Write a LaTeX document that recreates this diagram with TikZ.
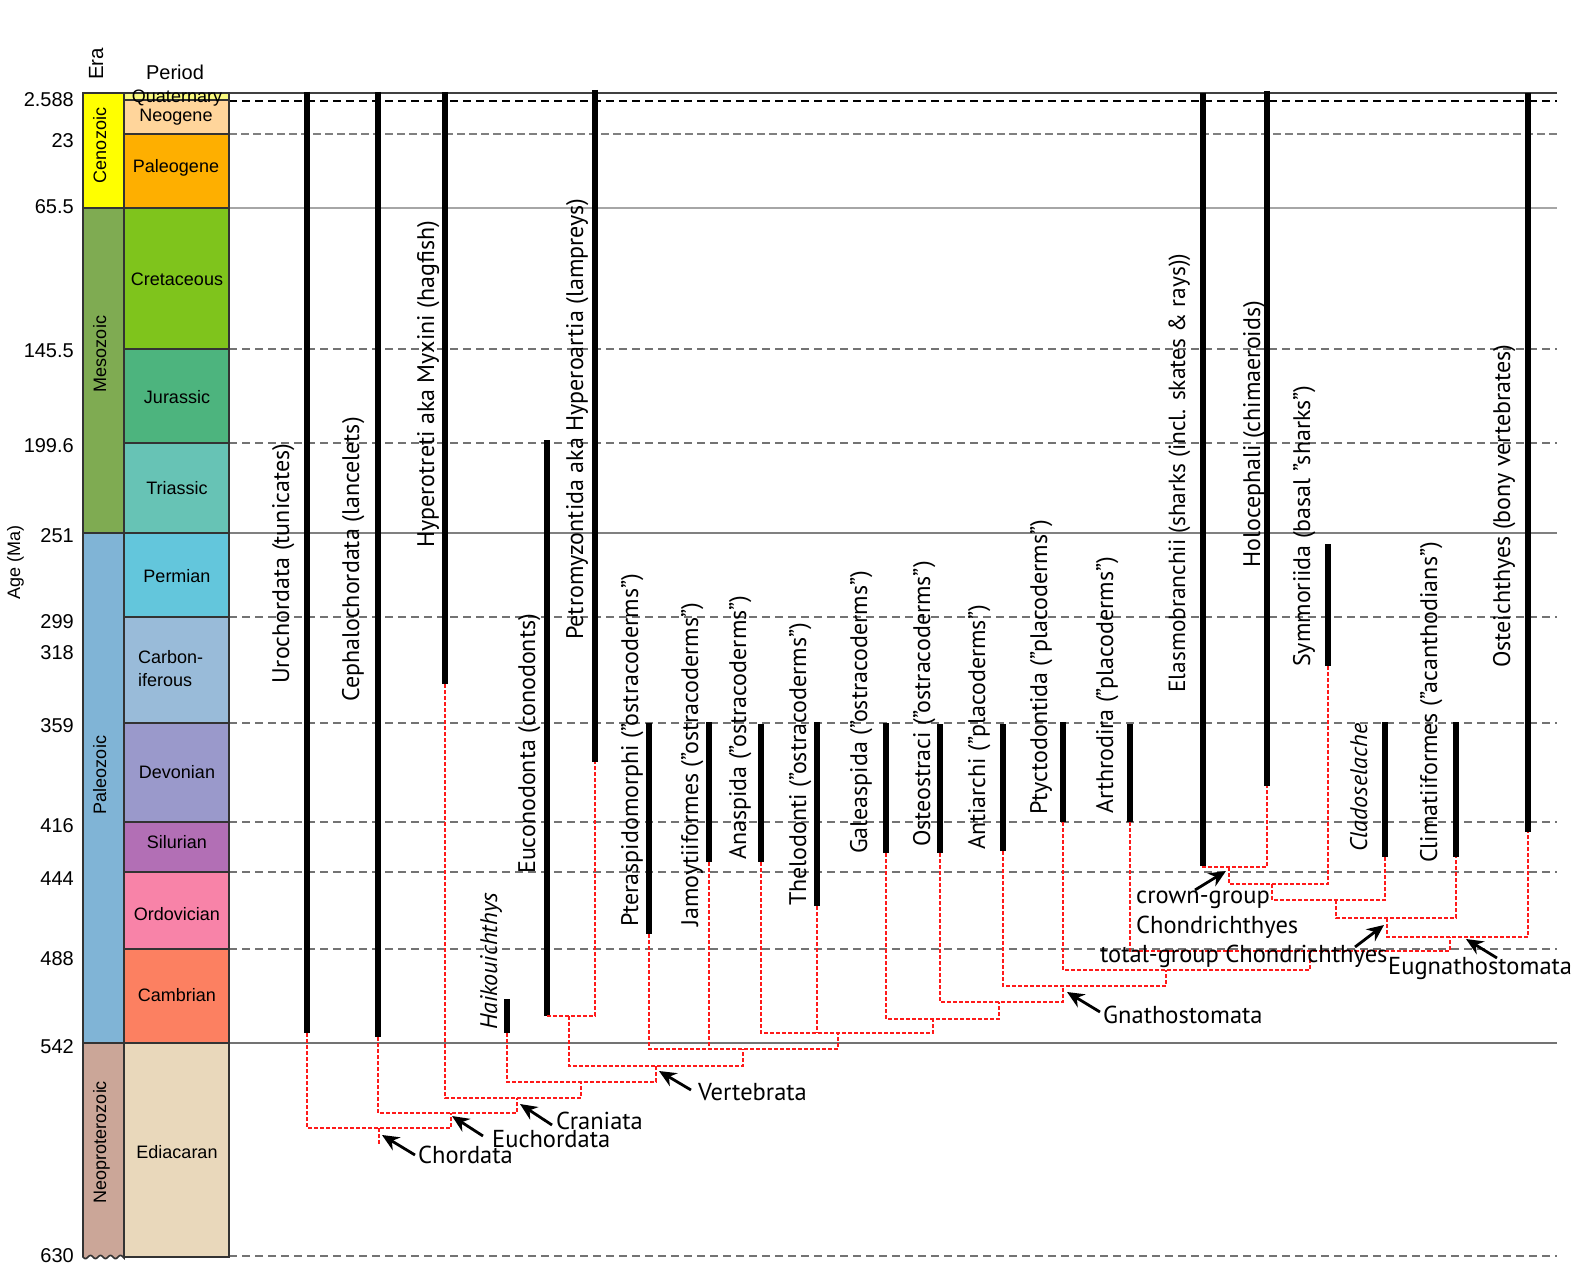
\documentclass[tikz,border=0pt]{standalone}
\usepackage{fontspec}
\setmainfont{PT Sans}
\newfontfamily\colfont{Liberation Sans}
\usetikzlibrary{arrows.meta}
\definecolor{cCeno}{HTML}{FFFF00}
\definecolor{cQuat}{HTML}{F9F97F}
\definecolor{cNeog}{HTML}{FFD59B}
\definecolor{cPaleog}{HTML}{FEAF00}
\definecolor{cMeso}{HTML}{7FAB52}
\definecolor{cCret}{HTML}{7FC41C}
\definecolor{cJura}{HTML}{4DB47E}
\definecolor{cTrias}{HTML}{67C3B5}
\definecolor{cPaleo}{HTML}{80B4D6}
\definecolor{cPerm}{HTML}{63C6DC}
\definecolor{cCarb}{HTML}{99BBD9}
\definecolor{cDevo}{HTML}{9A99CB}
\definecolor{cSilu}{HTML}{B26FB5}
\definecolor{cOrdo}{HTML}{F883A8}
\definecolor{cCamb}{HTML}{FC8061}
\definecolor{cNeop}{HTML}{CBA698}
\definecolor{cEdia}{HTML}{E9D8BB}
\definecolor{treered}{HTML}{FF1A1A}
\begin{document}
\begin{tikzpicture}[x=1pt,y=-1pt,
  cell/.style={draw=black!80, line width=1.6pt},
  gsolid/.style={line width=1.2pt},
  gdash/.style={line width=1.1pt, dash pattern=on 8pt off 5pt},
  bar/.style={line width=6.5pt, black},
  tree/.style={draw=treered, line width=1.4pt, dash pattern=on 4pt off 2pt},
  arr/.style={-{Stealth[length=17pt,width=15pt]}, line width=2.8pt, black},
  taxon/.style={rotate=90, anchor=base west, inner sep=0pt, font=\fontsize{24}{28}\selectfont},
  clade/.style={anchor=base west, inner sep=0pt, font=\fontsize{24.5}{28}\selectfont},
  per/.style={anchor=base, inner sep=0pt, font=\colfont\fontsize{18}{21}\selectfont},
  era/.style={rotate=90, anchor=base, inner sep=0pt, font=\colfont\fontsize{18}{21}\selectfont},
  tick/.style={anchor=base east, inner sep=0pt, font=\colfont\fontsize{20}{23}\selectfont}]
\fill[white] (0,0) rectangle (1577,1273);
\useasboundingbox (0,0) rectangle (1577,1273);

% ---------- time lines ----------
\draw[gsolid, black!75] (229,93) -- (1557,93);
\draw[gdash, black, line width=1.3pt] (229,101) -- (1557,101);
\draw[gdash, black!50, line width=1.8pt, dash pattern=on 8pt off 4pt] (229,134) -- (1557,134);
\draw[gsolid, black!35] (229,208) -- (1557,208);
\draw[gdash, black!55] (229,349) -- (1557,349);
\draw[gdash, black!55] (229,443) -- (1557,443);
\draw[gsolid, black!50] (229,533) -- (1557,533);
\draw[gdash, black!55] (229,617) -- (1557,617);
\draw[gdash, black!55] (229,723) -- (1557,723);
\draw[gdash, black!55] (229,822) -- (1557,822);
\draw[gdash, black!55] (229,872) -- (1557,872);
\draw[gdash, black!55] (229,949) -- (1557,949);
\draw[gsolid, black!55] (229,1043) -- (1557,1043);
\draw[gdash, black!55] (229,1256) -- (1557,1256);

% ---------- geologic column ----------
\filldraw[cell, fill=cCeno] (83,93) rectangle (124,208);
\filldraw[cell, fill=cMeso] (83,208) rectangle (124,533);
\filldraw[cell, fill=cPaleo] (83,533) rectangle (124,1043);
\filldraw[cell, fill=cNeop] (124,1043) -- (83,1043) -- (83,1257)
  -- plot[domain=83:124, samples=41] (\x, {1257+1.6*sin((\x-83)*36)}) -- cycle;
\filldraw[cell, fill=cQuat] (124,93) rectangle (229,100);
\filldraw[cell, fill=cNeog] (124,100) rectangle (229,134);
\filldraw[cell, fill=cPaleog] (124,134) rectangle (229,208);
\filldraw[cell, fill=cCret] (124,208) rectangle (229,349);
\filldraw[cell, fill=cJura] (124,349) rectangle (229,443);
\filldraw[cell, fill=cTrias] (124,443) rectangle (229,533);
\filldraw[cell, fill=cPerm] (124,533) rectangle (229,617);
\filldraw[cell, fill=cCarb] (124,617) rectangle (229,723);
\filldraw[cell, fill=cDevo] (124,723) rectangle (229,822);
\filldraw[cell, fill=cSilu] (124,822) rectangle (229,872);
\filldraw[cell, fill=cOrdo] (124,872) rectangle (229,949);
\filldraw[cell, fill=cCamb] (124,949) rectangle (229,1043);
\filldraw[cell, fill=cEdia] (124,1043) rectangle (229,1257);

\node[era, font=\colfont\fontsize{20.5}{23}\selectfont] (lEra) at (103,64) {Era};
\node[per, font=\colfont\fontsize{20}{23}\selectfont] (lPeriod) at (175,80) {Period};
\node[rotate=90, anchor=base, inner sep=0pt, font=\colfont\fontsize{18}{21}\selectfont] (lAge) at (20,562) {Age (Ma)};
\node[era] (eCeno) at (106,145.5) {Cenozoic};
\node[era] (eMeso) at (106,354) {Mesozoic};
\node[era] (ePaleo) at (106,775) {Paleozoic};
\node[era] (eNeop) at (106,1142) {Neoproterozoic};

\node[per] (pQuat) at (177,103) {Quaternary};
\node[per] (pNeog) at (176,122) {Neogene};
\node[per] (pPaleog) at (176,173) {Paleogene};
\node[per] (pCret) at (177,286) {Cretaceous};
\node[per] (pJura) at (177,403) {Jurassic};
\node[per] (pTrias) at (177,494) {Triassic};
\node[per] (pPerm) at (177,582) {Permian};
\node[per, anchor=base west] (pCarbA) at (138,663) {Carbon-};
\node[per, anchor=base west] (pCarbB) at (138,686) {iferous};
\node[per] (pDevo) at (177,778) {Devonian};
\node[per] (pSilu) at (177,848) {Silurian};
\node[per] (pOrdo) at (177,920) {Ordovician};
\node[per] (pCamb) at (177,1001) {Cambrian};
\node[per] (pEdia) at (177,1158) {Ediacaran};

\node[tick] (k1) at (74,107) {2.588};
\node[tick] (k2) at (74,148) {23};
\node[tick] (k3) at (74,214) {65.5};
\node[tick] (k4) at (74,357) {145.5};
\node[tick] (k5) at (74,452) {199.6};
\node[tick] (k6) at (74,542) {251};
\node[tick] (k7) at (74,628) {299};
\node[tick] (k8) at (74,659) {318};
\node[tick] (k9) at (74,732) {359};
\node[tick] (k10) at (74,832) {416};
\node[tick] (k11) at (74,885) {444};
\node[tick] (k12) at (74,965) {488};
\node[tick] (k13) at (74,1053) {542};
\node[tick] (k14) at (74,1262) {630};

% ---------- taxon ranges ----------
\coordinate (tUro) at (307,92);     \coordinate (bUro) at (307,1033);
\coordinate (tCeph) at (378,92);    \coordinate (bCeph) at (378,1037);
\coordinate (tHyper) at (445,92);   \coordinate (bHyper) at (445,684);
\coordinate (tHaik) at (507,999);   \coordinate (bHaik) at (507,1033);
\coordinate (tEucon) at (547,440);  \coordinate (bEucon) at (547,1016);
\coordinate (tPetro) at (595,90);   \coordinate (bPetro) at (595,762);
\coordinate (tPter) at (649,723);   \coordinate (bPter) at (649,934);
\coordinate (tJamoy) at (709,722);  \coordinate (bJamoy) at (709,862);
\coordinate (tAnasp) at (761,724);  \coordinate (bAnasp) at (761,862);
\coordinate (tThel) at (817,722);   \coordinate (bThel) at (817,906);
\coordinate (tGal) at (886,723);    \coordinate (bGal) at (886,853);
\coordinate (tOsteo) at (940,724);  \coordinate (bOsteo) at (940,853);
\coordinate (tAnti) at (1003,724);  \coordinate (bAnti) at (1003,851);
\coordinate (tPtyc) at (1063,722);  \coordinate (bPtyc) at (1063,822);
\coordinate (tArth) at (1130,724);  \coordinate (bArth) at (1130,822);
\coordinate (tElas) at (1203,93);   \coordinate (bElas) at (1203,866);
\coordinate (tHolo) at (1267,91);   \coordinate (bHolo) at (1267,786);
\coordinate (tSym) at (1328,544);   \coordinate (bSym) at (1328,666);
\coordinate (tClado) at (1385,722); \coordinate (bClado) at (1385,857);
\coordinate (tClim) at (1456,722);  \coordinate (bClim) at (1456,857);
\coordinate (tOste) at (1528,93);   \coordinate (bOste) at (1528,832);

\foreach \n in {Uro,Ceph,Hyper,Haik,Eucon,Petro,Pter,Jamoy,Anasp,Thel,Gal,Osteo,Anti,Ptyc,Arth,Elas,Holo,Sym,Clado,Clim,Oste}
  \draw[bar] (t\n) -- (b\n);

\node[taxon] (nUro) at (289,684) {Urochordata (tunicates)};
\node[taxon] (nCeph) at (359,702) {Cephalochordata (lancelets)};
\node[taxon] (nHyper) at (434,548) {Hyperotreti aka Myxini (hagfish)};
\node[taxon, font=\fontsize{24}{28}\selectfont\itshape] (nHaik) at (497,1030) {Haikouichthys};
\node[taxon] (nEucon) at (535,874) {Euconodonta (conodonts)};
\node[taxon] (nPetro) at (583,640) {Petromyzontida aka Hyperoartia (lampreys)};
\node[taxon] (nPter) at (638,927) {Pteraspidomorphi (”ostracoderms”)};
\node[taxon] (nJamoy) at (698,927) {Jamoytiiformes (”ostracoderms”)};
\node[taxon] (nAnasp) at (746,860) {Anaspida (”ostracoderms”)};
\node[taxon] (nThel) at (806,906) {Thelodonti (”ostracoderms”)};
\node[taxon] (nGal) at (867,854) {Galeaspida (”ostracoderms”)};
\node[taxon] (nOsteo) at (930,847) {Osteostraci (”ostracoderms”)};
\node[taxon] (nAnti) at (985,850) {Antiarchi (”placoderms”)};
\node[taxon] (nPtyc) at (1047,815) {Ptyctodontida (”placoderms”)};
\node[taxon] (nArth) at (1113,814) {Arthrodira (”placoderms”)};
\node[taxon, font=\fontsize{23.4}{28}\selectfont] (nElas) at (1185,693) {Elasmobranchii (sharks (incl. skates \& rays))};
\node[taxon] (nHolo) at (1260,568) {Holocephali (chimaeroids)};
\node[taxon] (nSym) at (1310,667) {Symmoriida (basal ”sharks”)};
\node[taxon, font=\fontsize{24}{28}\selectfont\itshape] (nClado) at (1367,852) {Cladoselache};
\node[taxon] (nClim) at (1437,863) {Climatiiformes (”acanthodians”)};
\node[taxon] (nOste) at (1510,668) {Osteichthyes (bony vertebrates)};

% ---------- cladogram ----------
\coordinate (jCrown) at (1229,867);
\coordinate (jSym) at (1272,884);
\coordinate (jClado) at (1336,900);
\coordinate (jTotal) at (1387,918);
\coordinate (jEugn) at (1450,937);
\coordinate (jArth) at (1310,951);
\coordinate (jPtyc) at (1166,970);
\coordinate (jGnath) at (1063,986);
\coordinate (jOsteo) at (999,1002);
\coordinate (jGal) at (933,1019);
\coordinate (jThel) at (838,1033);
\coordinate (jPter) at (743,1049);
\coordinate (jPetro) at (569,1016);
\coordinate (jVert) at (656,1066);
\coordinate (jHaik) at (581,1082);
\coordinate (jCran) at (517,1098);
\coordinate (jEuch) at (451,1113);
\coordinate (jChord) at (379,1128);
\coordinate (rootEnd) at (379,1144);

\draw[tree] (bElas) |- (jCrown) -| (bHolo);
\draw[tree] (jCrown) |- (jSym) -| (bSym);
\draw[tree] (jSym) |- (jClado) -| (bClado);
\draw[tree] (jClado) |- (jTotal) -| (bClim);
\draw[tree] (jTotal) |- (jEugn) -| (bOste);
\draw[tree] (bArth) |- (jArth) -| (jEugn);
\draw[tree] (bPtyc) |- (jPtyc) -| (jArth);
\draw[tree] (bAnti) |- (jGnath) -| (jPtyc);
\draw[tree] (bOsteo) |- (jOsteo) -| (jGnath);
\draw[tree] (bGal) |- (jGal) -| (jOsteo);
\draw[tree] (bAnasp) |- (jThel) -| (jGal);
\draw[tree] (bThel) -- (bThel |- jThel);
\draw[tree] (bPter) |- (jPter) -| (jThel);
\draw[tree] (bJamoy) -- (bJamoy |- jPter);
\draw[tree] (bEucon) |- (jPetro) -| (bPetro);
\draw[tree] (jPetro) |- (jVert) -| (jPter);
\draw[tree] (bHaik) |- (jHaik) -| (jVert);
\draw[tree] (bHyper) |- (jCran) -| (jHaik);
\draw[tree] (bCeph) |- (jEuch) -| (jCran);
\draw[tree] (bUro) |- (jChord) -| (jEuch);
\draw[tree] (jChord) -- (rootEnd);

% ---------- clade labels ----------
\node[clade] (cChord) at (418,1163) {Chordata};
\node[clade] (cEuch) at (492,1147) {Euchordata};
\node[clade] (cCran) at (556,1129) {Craniata};
\node[clade] (cVert) at (698,1100) {Vertebrata};
\node[clade] (cGnath) at (1103,1023) {Gnathostomata};
\node[clade] (cCrownA) at (1136,903) {crown-group};
\node[clade] (cCrownB) at (1136,933) {Chondrichthyes};
\node[clade] (cTotal) at (1100,962) {total-group Chondrichthyes};
\node[clade] (cEugn) at (1388,974) {Eugnathostomata};

\coordinate (aChordS) at (415,1155);  \coordinate (aChordT) at (382,1135);
\coordinate (aEuchS) at (483,1136);   \coordinate (aEuchT) at (452,1116);
\coordinate (aCranS) at (552,1125);   \coordinate (aCranT) at (520,1104);
\coordinate (aVertS) at (691,1090);   \coordinate (aVertT) at (659,1071);
\coordinate (aGnathS) at (1100,1012); \coordinate (aGnathT) at (1067,992);
\coordinate (aCrownS) at (1195,890);  \coordinate (aCrownT) at (1226,871);
\coordinate (aTotalS) at (1355,947);  \coordinate (aTotalT) at (1384,925);
\coordinate (aEugnS) at (1497,958);   \coordinate (aEugnT) at (1466,939);

\draw[arr] (aChordS) -- (aChordT);
\draw[arr] (aEuchS) -- (aEuchT);
\draw[arr] (aCranS) -- (aCranT);
\draw[arr] (aVertS) -- (aVertT);
\draw[arr] (aGnathS) -- (aGnathT);
\draw[arr] (aCrownS) -- (aCrownT);
\draw[arr] (aTotalS) -- (aTotalT);
\draw[arr] (aEugnS) -- (aEugnT);
\end{tikzpicture}
\end{document}
